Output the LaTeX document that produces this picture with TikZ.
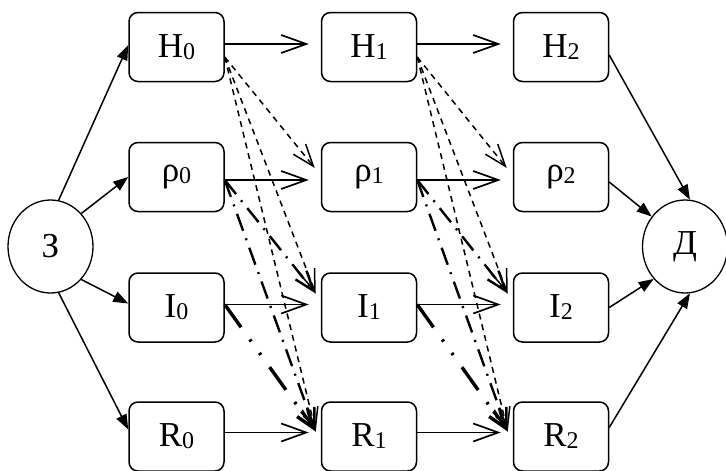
\documentclass[tikz,border=0pt]{standalone}
\usepackage{fontspec}
\setmainfont{Liberation Serif}
\usetikzlibrary{arrows.meta,shapes.geometric,calc}
\newcommand\lowsub[1]{\raisebox{-2pt}{\fontsize{24}{24}\selectfont #1}}
\begin{document}
\begin{tikzpicture}[x=1pt,y=-1pt,
 box/.style={draw, line width=1.5pt, rounded corners=9pt, minimum width=95pt, minimum height=69pt, inner sep=0pt, font=\fontsize{35}{35}\selectfont},
 circ/.style={draw, ellipse, line width=1.3pt, minimum width=85pt, minimum height=93pt, inner sep=0pt, font=\fontsize{35}{35}\selectfont},
 feed/.style={line width=1.5pt, -{Triangle[length=15pt,width=11pt]}},
 flow/.style={line width=1.7pt, -{Straight Barb[length=25pt,width=18pt]}},
 hdash/.style={line width=1.5pt, dash pattern=on 6pt off 5pt, -{Straight Barb[length=22pt,width=16pt]}},
 rdash/.style={line width=2.4pt, dash pattern=on 18pt off 8pt on 2pt off 8pt, -{Straight Barb[length=20pt,width=14pt]}},
 idash/.style={line width=3.4pt, dash pattern=on 28pt off 15pt on 2.5pt off 14pt on 2.5pt off 15pt, -{Straight Barb[length=18pt,width=13pt]}},
]
\useasboundingbox (0,0) rectangle (726,471);
\fill[white] (0,0) rectangle (726,471);

\node[circ] (z) at (50.5,246.5) {З};
\node[circ] (d) at (685,246.5) {Д};

\foreach \i/\x in {0/176.5,1/369,2/561}{
  \node[box] (h\i) at (\x,47) {H\lowsub{\i}};
  \node[box] (rho\i) at (\x,177) {ρ\lowsub{\i}};
  \node[box] (i\i) at (\x,307.5) {I\lowsub{\i}};
  \node[box] (r\i) at (\x,436.5) {R\lowsub{\i}};
}

\foreach \a/\b in {0/1,1/2}{
  \draw[flow] ([yshift=3pt]h\a.east) -- ([xshift=-12pt,yshift=3pt]h\b.west);
  \draw[flow] ([yshift=-3pt]rho\a.east) -- ([xshift=-12pt,yshift=-3pt]rho\b.west);
  \draw[flow] ([yshift=3pt]i\a.east) -- ([xshift=-12pt,yshift=3pt]i\b.west);
  \draw[flow] ([yshift=4pt]r\a.east) -- ([xshift=-12pt,yshift=4pt]r\b.west);
  \draw[hdash] ([yshift=-10pt]h\a.east) -- ([xshift=-6pt,yshift=9pt]rho\b.west);
  \draw[hdash] ([yshift=-10pt]h\a.east) -- ([xshift=-5pt,yshift=14pt]i\b.west);
  \draw[hdash] ([yshift=-10pt]h\a.east) -- ([xshift=-5pt,yshift=5pt]r\b.west);
  \draw[rdash] ([yshift=-3pt]rho\a.east) -- ([xshift=-5pt,yshift=14pt]i\b.west);
  \draw[rdash] ([yshift=-3pt]rho\a.east) -- ([xshift=-5pt,yshift=5pt]r\b.west);
  \draw[idash] ([yshift=3pt]i\a.east) -- ([xshift=-5pt,yshift=5pt]r\b.west);
}

\draw[feed] (z.80) -- ([yshift=2pt]h0.west);
\draw[feed] (z.47) -- (rho0.west);
\draw[feed] (z.-47) -- ([yshift=4pt]i0.west);
\draw[feed] (z.-80) -- ([yshift=7pt]r0.west);
\draw[feed] ([yshift=-8pt]h2.east) -- (d.84);
\draw[feed] ([yshift=-5pt]rho2.east) -- (d.138);
\draw[feed] (i2.east) -- (d.226);
\draw[feed] ([yshift=9pt]r2.east) -- (d.276);
\end{tikzpicture}
\end{document}
